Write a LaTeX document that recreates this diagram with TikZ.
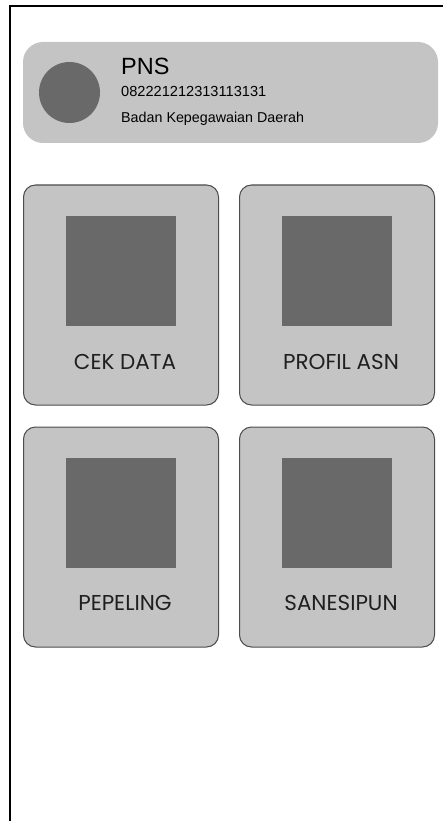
\documentclass[tikz,border=0pt]{standalone}
\usepackage{fontspec}
\setmainfont{Liberation Sans}
\newfontfamily\poppins{Poppins}
\usetikzlibrary{positioning}
\definecolor{lightgrey}{HTML}{C4C4C4}
\definecolor{darkgrey}{HTML}{696969}

\begin{document}
\begin{tikzpicture}[x=1pt,y=-1pt]
        \tikzset{card/.style={draw=black!70,fill=lightgrey,line width=1pt,rounded corners=12pt,
                              minimum width=195pt,minimum height=220pt,inner sep=0pt},
                 icon/.style={fill=darkgrey,minimum size=110pt,inner sep=0pt},
                 cardlabel/.style={font=\poppins\fontsize{21.5}{24}\selectfont,text=black!88,anchor=base,inner sep=0pt}}

        \useasboundingbox (0,0) rectangle (443,821);
        \draw[line width=2pt] (10,821) -- (10,6) -- (443,6);

        % header
        \node[fill=lightgrey,rounded corners=20pt,minimum width=415pt,minimum height=101pt,inner sep=0pt] (header) at (230.5,92.5) {};
        \node[circle,fill=darkgrey,minimum size=61pt,inner sep=0pt] (foto) at (69.5,92.5) {};
        \node[anchor=base west,inner sep=0pt,font=\fontsize{23.5}{26}\selectfont] (nama) at (121,75) {PNS};
        \node[anchor=base west,inner sep=0pt,font=\fontsize{14.6}{16}\selectfont] (nip) at (121,97) {082221212313113131};
        \node[anchor=base west,inner sep=0pt,font=\fontsize{14.3}{16}\selectfont] (instansi) at (121,123) {Badan Kepegawaian Daerah};

        % menu
        \node[card] (cek) at (121,295) {};
        \node[card] (profil) at (337,295) {};
        \node[card] (pepeling) at (121,537) {};
        \node[card] (sanesipun) at (337,537) {};

        \node[icon] (cekicon) at ([yshift=24pt]cek.center) {};
        \node[icon] (profilicon) at ([yshift=24pt]profil.center) {};
        \node[icon] (pepelingicon) at ([yshift=24pt]pepeling.center) {};
        \node[icon] (sanesipunicon) at ([yshift=24pt]sanesipun.center) {};

        \node[cardlabel] (ceklabel) at ([xshift=4pt,yshift=-74pt]cek.center) {CEK DATA};
        \node[cardlabel] (profillabel) at ([xshift=4pt,yshift=-74pt]profil.center) {PROFIL ASN};
        \node[cardlabel] (pepelinglabel) at ([xshift=4pt,yshift=-73pt]pepeling.center) {PEPELING};
        \node[cardlabel] (sanesipunlabel) at ([xshift=4pt,yshift=-73pt]sanesipun.center) {SANESIPUN};
\end{tikzpicture}
\end{document}
